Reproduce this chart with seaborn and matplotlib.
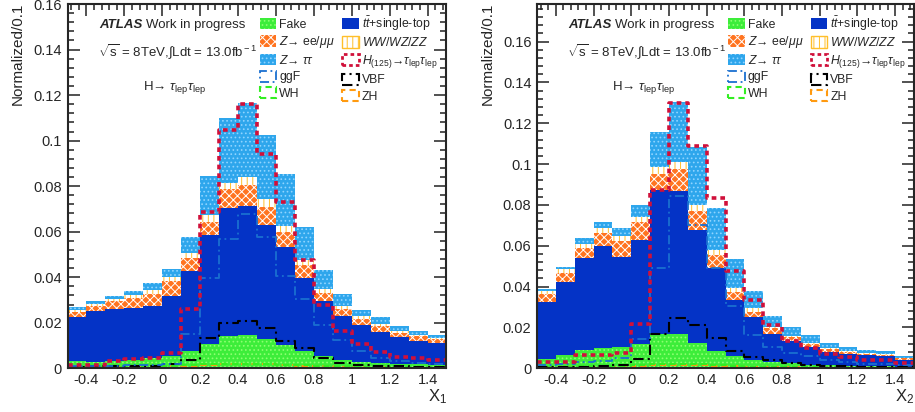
import numpy as np
import pandas as pd
import matplotlib
matplotlib.use("Agg")
import matplotlib.pyplot as plt
from matplotlib.patches import Patch
import seaborn as sns

# ---------------- data ----------------
bin_edges = [-0.5, -0.4, -0.3, -0.2, -0.1, 0.0, 0.1, 0.2, 0.3, 0.4, 0.5,
             0.6, 0.7, 0.8, 0.9, 1.0, 1.1, 1.2, 1.3, 1.4, 1.5]

# panel 1 (X1): background contributions (stack order bottom -> top)
x1_fake = [0.0030, 0.0028, 0.0033, 0.0036, 0.0044, 0.0052, 0.0074, 0.0106, 0.0143, 0.0145,
           0.0130, 0.0103, 0.0074, 0.0055, 0.0037, 0.0028, 0.0022, 0.0020, 0.0018, 0.0016]
x1_ttbar = [0.0195, 0.0222, 0.0229, 0.0229, 0.0228, 0.0267, 0.0353, 0.0479, 0.0563, 0.0568,
            0.0500, 0.0429, 0.0323, 0.0239, 0.0191, 0.0160, 0.0137, 0.0117, 0.0104, 0.0097]
x1_zll = [0.0022, 0.0022, 0.0032, 0.0044, 0.0055, 0.0063, 0.0056, 0.0058, 0.0081, 0.0093,
          0.0079, 0.0068, 0.0056, 0.0037, 0.0034, 0.0030, 0.0028, 0.0020, 0.0018, 0.0017]
x1_vv = [0.0010, 0.0012, 0.0012, 0.0011, 0.0019, 0.0018, 0.0022, 0.0031, 0.0029, 0.0035,
         0.0034, 0.0025, 0.0021, 0.0019, 0.0010, 0.0010, 0.0009, 0.0008, 0.0006, 0.0005]
x1_ztt = [0.0011, 0.0010, 0.0010, 0.0018, 0.0029, 0.0034, 0.0072, 0.0172, 0.0284, 0.0324,
          0.0282, 0.0228, 0.0146, 0.0080, 0.0056, 0.0026, 0.0028, 0.0019, 0.0019, 0.0012]
# panel 1 signals
x1_h125 = [0.0015, 0.0013, 0.0030, 0.0042, 0.0044, 0.0066, 0.0262, 0.0688, 0.1047, 0.1162,
           0.0941, 0.0731, 0.0474, 0.0277, 0.0162, 0.0106, 0.0071, 0.0049, 0.0044, 0.0037]
x1_ggf = [0.0010, 0.0010, 0.0012, 0.0015, 0.0015, 0.0018, 0.0150, 0.0397, 0.0569, 0.0677,
          0.0577, 0.0405, 0.0304, 0.0191, 0.0125, 0.0077, 0.0045, 0.0030, 0.0025, 0.0020]
x1_vbf = [0.0005, 0.0008, 0.0008, 0.0008, 0.0010, 0.0018, 0.0037, 0.0132, 0.0199, 0.0209,
          0.0176, 0.0118, 0.0088, 0.0045, 0.0025, 0.0015, 0.0010, 0.0008, 0.0006, 0.0005]
x1_wh = [0.0004, 0.0005, 0.0006, 0.0007, 0.0008, 0.0010, 0.0014, 0.0018, 0.0020, 0.0021,
         0.0019, 0.0016, 0.0013, 0.0010, 0.0008, 0.0006, 0.0005, 0.0004, 0.0003, 0.0003]
x1_zh = [0.0003, 0.0003, 0.0004, 0.0005, 0.0006, 0.0008, 0.0012, 0.0016, 0.0018, 0.0019,
         0.0017, 0.0014, 0.0011, 0.0008, 0.0006, 0.0005, 0.0004, 0.0003, 0.0003, 0.0002]

# panel 2 (X2)
x2_fake = [0.0044, 0.0065, 0.0090, 0.0101, 0.0106, 0.0119, 0.0166, 0.0166, 0.0125, 0.0086,
           0.0060, 0.0041, 0.0030, 0.0024, 0.0016, 0.0014, 0.0012, 0.0010, 0.0009, 0.0008]
x2_ttbar = [0.0281, 0.0359, 0.0448, 0.0499, 0.0440, 0.0509, 0.0707, 0.0704, 0.0552, 0.0404,
            0.0274, 0.0209, 0.0138, 0.0111, 0.0090, 0.0067, 0.0058, 0.0054, 0.0051, 0.0033]
x2_zll = [0.0039, 0.0044, 0.0049, 0.0061, 0.0079, 0.0090, 0.0078, 0.0106, 0.0093, 0.0065,
          0.0041, 0.0027, 0.0028, 0.0017, 0.0014, 0.0012, 0.0012, 0.0007, 0.0007, 0.0007]
x2_vv = [0.0013, 0.0016, 0.0021, 0.0024, 0.0023, 0.0024, 0.0036, 0.0035, 0.0029, 0.0024,
         0.0017, 0.0017, 0.0007, 0.0006, 0.0005, 0.0004, 0.0003, 0.0003, 0.0004, 0.0004]
x2_ztt = [0.0011, 0.0014, 0.0028, 0.0030, 0.0040, 0.0057, 0.0168, 0.0291, 0.0283, 0.0207,
          0.0141, 0.0086, 0.0052, 0.0046, 0.0037, 0.0025, 0.0021, 0.0014, 0.0014, 0.0010]
x2_h125 = [0.0033, 0.0033, 0.0065, 0.0065, 0.0075, 0.0217, 0.0873, 0.1300, 0.1088, 0.0832,
           0.0478, 0.0334, 0.0212, 0.0135, 0.0101, 0.0070, 0.0057, 0.0041, 0.0039, 0.0024]
x2_ggf = [0.0015, 0.0020, 0.0030, 0.0037, 0.0049, 0.0142, 0.0490, 0.0843, 0.0700, 0.0490,
          0.0305, 0.0163, 0.0106, 0.0075, 0.0060, 0.0040, 0.0030, 0.0022, 0.0020, 0.0015]
x2_vbf = [0.0006, 0.0007, 0.0008, 0.0010, 0.0015, 0.0045, 0.0166, 0.0245, 0.0212, 0.0147,
          0.0086, 0.0057, 0.0039, 0.0024, 0.0015, 0.0012, 0.0010, 0.0008, 0.0006, 0.0005]
x2_wh = [0.0006, 0.0007, 0.0009, 0.0010, 0.0011, 0.0014, 0.0020, 0.0022, 0.0019, 0.0015,
         0.0011, 0.0008, 0.0006, 0.0005, 0.0004, 0.0003, 0.0003, 0.0002, 0.0002, 0.0002]
x2_zh = [0.0004, 0.0005, 0.0006, 0.0007, 0.0008, 0.0010, 0.0015, 0.0018, 0.0016, 0.0013,
         0.0009, 0.0007, 0.0005, 0.0004, 0.0003, 0.0003, 0.0002, 0.0002, 0.0002, 0.0001]

x_ticks = [-0.4, -0.2, 0, 0.2, 0.4, 0.6, 0.8, 1, 1.2, 1.4]
x_tick_labels = ["-0.4", "-0.2", "0", "0.2", "0.4", "0.6", "0.8", "1", "1.2", "1.4"]
y1_ticks = [0, 0.02, 0.04, 0.06, 0.08, 0.1, 0.12, 0.14, 0.16]
y1_tick_labels = ["0", "0.02", "0.04", "0.06", "0.08", "0.1", "0.12", "0.14", "0.16"]
y2_ticks = [0, 0.02, 0.04, 0.06, 0.08, 0.1, 0.12, 0.14, 0.16]
y2_tick_labels = ["0", "0.02", "0.04", "0.06", "0.08", "0.1", "0.12", "0.14", "0.16"]

# ---------------- style ----------------
sns.set_style("ticks")
plt.rcParams["font.family"] = ["Liberation Sans", "DejaVu Sans"]
plt.rcParams["mathtext.fontset"] = "custom"
plt.rcParams["mathtext.rm"] = "Liberation Sans"
plt.rcParams["mathtext.it"] = "Liberation Sans:italic"
plt.rcParams["mathtext.bf"] = "Liberation Sans:bold"
plt.rcParams["hatch.linewidth"] = 0.7

W, H = 915, 412
fig = plt.figure(figsize=(W / 100, H / 100), dpi=100)

bg_styles = [  # (label, face, hatch, hatchcolor)
    ("Fake", "#3ded3a", "....", "#8dff70"),
    (r"$t\bar{t}$+single-top", "#0433c6", None, "#0433c6"),
    (r"$Z$→ ee/$\mu\mu$", "#ff7420", "xxxx", "#ffffff"),
    (r"$WW/WZ/ZZ$", "#ffffff", "|||", "#ffbf2a"),
    (r"$Z$→ $\tau\tau$", "#2ea6ec", "....", "#8fd4ff"),
]
sig_styles = [  # (label, color, linestyle, lw)
    (r"$H$$_{(125)}$→$\tau_{\rm lep}\tau_{\rm lep}$", "#d0103a", (0, (1.3, 1.1)), 2.6),
    ("ggF", "#1a6fd0", (0, (5, 2, 1, 2)), 1.3),
    ("VBF", "#000000", (0, (5, 2, 1, 2)), 1.5),
    ("WH", "#33ee22", (0, (3, 2)), 1.5),
    ("ZH", "#ff9a10", (0, (3, 2)), 1.5),
]


def draw_panel(ax, bgs, sigs, ylim, yticks, yticklabels):
    edges = list(bin_edges)
    centers = [0.5 * (a + b) for a, b in zip(bin_edges[:-1], bin_edges[1:])]
    stack = np.cumsum(np.vstack(bgs), axis=0)
    # draw cumulative stack from the top down (ROOT THStack style)
    for i in reversed(range(len(bgs))):
        _, face, hatch, hc = bg_styles[i]
        kw = dict(facecolor=face, edgecolor=hc, linewidth=0)
        if hatch:
            kw["hatch"] = hatch
        df = pd.DataFrame({"x": centers, "w": stack[i]})
        sns.histplot(data=df, x="x", weights="w", bins=edges, element="step",
                     fill=True, alpha=1, ax=ax, **kw)
    for j in [4, 3, 2, 1, 0]:
        _, col, ls, lw = sig_styles[j]
        df = pd.DataFrame({"x": centers, "w": sigs[j]})
        sns.histplot(data=df, x="x", weights="w", bins=edges, element="step",
                     fill=False, color=col, linestyle=ls, linewidth=lw, ax=ax)
    ax.set_xlim(-0.5, 1.5)
    ax.set_ylim(*ylim)
    ax.set_xticks(x_ticks)
    ax.set_xticklabels(x_tick_labels)
    ax.set_yticks(yticks)
    ax.set_yticklabels(yticklabels)
    ax.xaxis.set_minor_locator(matplotlib.ticker.MultipleLocator(0.04))
    ax.yaxis.set_minor_locator(matplotlib.ticker.MultipleLocator(0.004))
    ax.tick_params(which="both", direction="in", top=True, right=True, width=1.1,
                   labelsize=10.5, color="#222222")
    ax.tick_params(which="major", length=8.5)
    ax.tick_params(which="minor", length=4.3)
    ax.tick_params(axis="x", pad=3.5)
    ax.tick_params(axis="y", pad=4)
    for s in ax.spines.values():
        s.set_linewidth(1.5)
        s.set_visible(True)
    ax.set_xlabel("")
    ax.set_ylabel("")

    # texts
    ax.text(0.084, 0.942, "ATLAS", transform=ax.transAxes, fontsize=9.5,
            fontweight="bold", fontstyle="italic", va="center", ha="left")
    ax.text(0.208, 0.942, "Work in progress", transform=ax.transAxes, fontsize=9.5,
            va="center", ha="left")
    ax.text(0.080, 0.868, r"$\sqrt{\rm s}$ = 8TeV,$\int$Ldt = 13.0fb$^{\rm -1}$",
            transform=ax.transAxes, fontsize=9.5, va="center", ha="left")
    ax.text(0.200, 0.771, r"H→ $\tau_{\rm lep}\tau_{\rm lep}$",
            transform=ax.transAxes, fontsize=9.5, va="center", ha="left")

    # legend
    handles = []
    labels = []
    col1 = [("bg", 0), ("bg", 2), ("bg", 4), ("sig", 1), ("sig", 3)]
    col2 = [("bg", 1), ("bg", 3), ("sig", 0), ("sig", 2), ("sig", 4)]
    for kind, k in col1 + col2:
        if kind == "bg":
            lab, face, hatch, hc = bg_styles[k]
            h = Patch(facecolor=face, edgecolor=hc, hatch=hatch,
                      linewidth=1.0 if k == 3 else 0)
        else:
            lab, col, ls, lw = sig_styles[k]
            h = Patch(facecolor="none", edgecolor=col, linestyle=ls,
                      linewidth=min(lw, 2.0))
        handles.append(h)
        labels.append(lab)
    ax.legend(handles, labels, ncol=2, loc="upper left",
              bbox_to_anchor=(0.507, 0.972), frameon=False, fontsize=8.8,
              handlelength=1.35, handleheight=1.05, handletextpad=0.25,
              labelspacing=0.3, columnspacing=0.6, borderaxespad=0, borderpad=0)


bottom = (H - 368.3) / H
height = 364.3 / H
ax1 = fig.add_axes([67.5 / W, bottom, 379 / W, height])
ax2 = fig.add_axes([537.0 / W, bottom, 377.0 / W, height])

draw_panel(ax1, [x1_fake, x1_ttbar, x1_zll, x1_vv, x1_ztt],
           [x1_h125, x1_ggf, x1_vbf, x1_wh, x1_zh], (0, 0.16), y1_ticks, y1_tick_labels)
draw_panel(ax2, [x2_fake, x2_ttbar, x2_zll, x2_vv, x2_ztt],
           [x2_h125, x2_ggf, x2_vbf, x2_wh, x2_zh], (0, 0.1784), y2_ticks, y2_tick_labels)

# axis titles (ROOT-style placement)
fig.text(18 / W, 1 - 3 / H, "Normalized/0.1", rotation=90, ha="center", va="top", fontsize=11)
fig.text(488 / W, 1 - 3 / H, "Normalized/0.1", rotation=90, ha="center", va="top", fontsize=11)
fig.text(447 / W, 1 - 387 / H, r"X$_{\rm 1}$", ha="right", va="top", fontsize=12)
fig.text(914 / W, 1 - 387 / H, r"X$_{\rm 2}$", ha="right", va="top", fontsize=12)

fig.savefig("out.png", dpi=100)
